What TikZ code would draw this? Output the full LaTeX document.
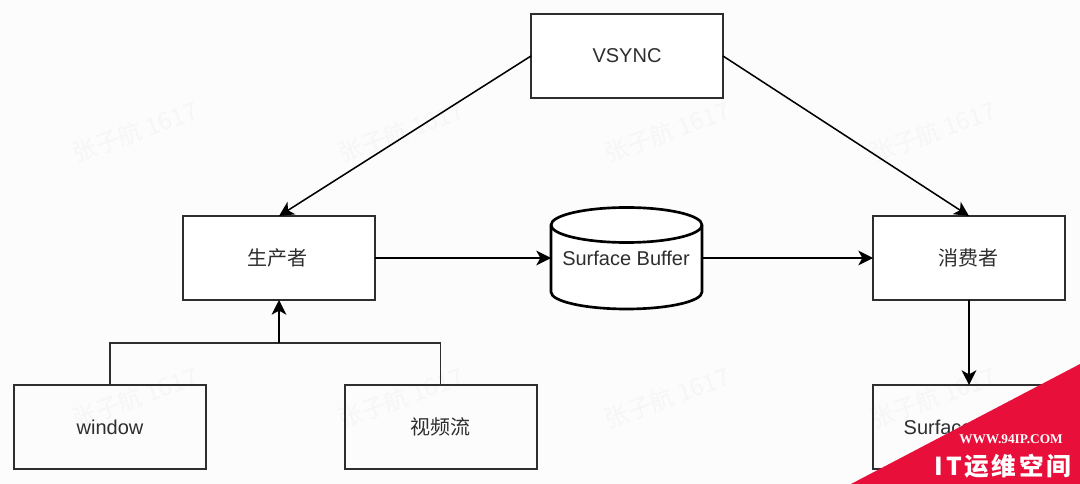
\documentclass[tikz,border=0pt]{standalone}
\usepackage{fontspec}
\setmainfont{Liberation Sans}
\newfontfamily\cjk{Noto Sans CJK SC}
\newfontfamily\ribcjk[LetterSpace=11]{Noto Sans CJK SC}
\newfontfamily\ribserif{Liberation Serif}
\usetikzlibrary{arrows.meta,shapes.geometric}
\definecolor{ink}{HTML}{2E2E2E}
\definecolor{ribbon}{HTML}{E8103A}
\definecolor{wm}{HTML}{F6F6F6}
\tikzset{
  x=0.75pt,y=-0.75pt,
  box/.style={draw=ink,line width=1.5pt,fill=white,minimum width=144pt,minimum height=63pt,inner sep=0pt,outer sep=0pt,text=ink,font=\fontsize{15}{18}\selectfont},
  flow/.style={draw=black,line width=1.15pt,-{Stealth[length=11pt,width=11pt,inset=3pt]}},
  plain/.style={draw=ink,line width=1.4pt},
  mark text/.style={text=wm,rotate=20,font=\cjk\fontsize{18}{22}\selectfont,inner sep=0pt}
}
\begin{document}
\begin{tikzpicture}
\useasboundingbox (0,0) rectangle (1080,484);
\fill[white!99!black] (0,0) rectangle (1080,484);
% watermarks
\foreach \wx/\wy/\wn in {135/132/a,401/132/b,667/132/c,933/132/d,135/398/e,401/398/f,667/398/g,933/398/h}
  \node[mark text] (wm\wn) at (\wx,\wy) {张子航 1617};
% boxes
\node[box] (vsync) at (627,56) {VSYNC};
\node[box] (prod) at (279,258) {\hspace{-2pt}\cjk 生产者};
\node[box] (cons) at (969,258) {\hspace{-1.5pt}\cjk 消费者};
\node[box,fill=none] (win) at (110,427) {window};
\node[box,fill=none] (vid) at (440.5,427) {\cjk 视频流};
\node[box,fill=none,text width=144pt,align=left] (surf) at (969,427) {\hspace{23pt}Surface};
% database
\draw[draw=black,line width=2pt,fill=white] (551,225) -- (551,292) arc[start angle=180,end angle=0,x radius=75.5,y radius=17] -- (702,225) arc[start angle=0,end angle=-180,x radius=75.5,y radius=17.5] -- cycle;
\draw[draw=black,line width=2pt] (551,225) arc[start angle=180,end angle=0,x radius=75.5,y radius=17.5];
\node[inner sep=0pt,text=ink,font=\fontsize{15}{18}\selectfont] (buf) at (626,258) {Surface Buffer};
\coordinate (bufw) at (551,258);
\coordinate (bufe) at (702,258);
% connectors
\draw[flow] (vsync.west) -- (prod.north);
\draw[flow] (vsync.east) -- (cons.north);
\draw[flow] (prod.east) -- (bufw);
\draw[flow] (bufe) -- (cons.west);
\draw[flow] (cons.south) -- (surf.north);
\coordinate (mid) at (279,343);
\draw[plain] (win.north) |- (mid) -| (vid.north);
\draw[flow] (mid) -- (prod.south);
% ribbon
\fill[ribbon] (1080,364) -- (1080,484) -- (851,484) -- cycle;
\node[text=white,inner sep=0pt,font=\ribserif\bfseries\fontsize{10}{12}\selectfont] (site) at (1011,439) {WWW.94IP.COM};
\node[text=white,inner sep=0pt,font=\ribcjk\bfseries\fontsize{18.5}{22}\selectfont] (brand) at (1003,466) {IT运维空间};
\end{tikzpicture}
\end{document}
